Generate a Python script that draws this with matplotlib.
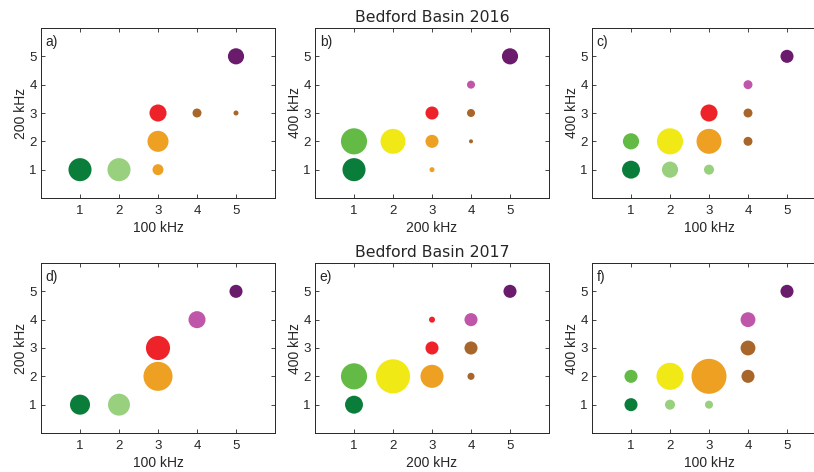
import matplotlib
matplotlib.use("Agg")
import matplotlib.pyplot as plt

# colours of clusters
C_DG = "#0b7d3b"   # dark green
C_LG = "#98d07e"   # light green
C_MG = "#63bb46"   # medium green
C_YE = "#f1e915"   # yellow
C_OR = "#eda022"   # orange
C_RE = "#ee2329"   # red
C_BR = "#a8662a"   # brown
C_PK = "#c056a9"   # pink
C_PU = "#6b1b6c"   # purple

# panel a) 100 kHz vs 200 kHz, 2016
a_x = [1, 2, 3, 3, 3, 4, 5, 5]
a_y = [1, 1, 1, 2, 3, 3, 3, 5]
a_w = [53, 53, 12, 44, 29, 8, 2.5, 26]
a_c = [C_DG, C_LG, C_OR, C_OR, C_RE, C_BR, C_BR, C_PU]

# panel b) 200 kHz vs 400 kHz, 2016
b_x = [1, 1, 2, 3, 3, 3, 4, 4, 4, 5]
b_y = [1, 2, 2, 1, 2, 3, 2, 3, 4, 5]
b_w = [53, 68, 62, 2.5, 17, 17, 1.6, 6.4, 6.4, 26]
b_c = [C_DG, C_MG, C_YE, C_OR, C_OR, C_RE, C_BR, C_BR, C_PK, C_PU]

# panel c) 100 kHz vs 400 kHz, 2016
c_x = [1, 1, 2, 2, 3, 3, 3, 4, 4, 4, 5]
c_y = [1, 2, 1, 2, 1, 2, 3, 2, 3, 4, 5]
c_w = [32, 26, 26, 68, 10, 62, 29, 8, 8, 8, 17]
c_c = [C_DG, C_MG, C_LG, C_YE, C_LG, C_OR, C_RE, C_BR, C_BR, C_PK, C_PU]

# panel d) 100 kHz vs 200 kHz, 2017
d_x = [1, 2, 3, 3, 4, 5]
d_y = [1, 1, 2, 3, 4, 5]
d_w = [40, 48, 84, 58, 29, 17]
d_c = [C_DG, C_LG, C_OR, C_RE, C_PK, C_PU]

# panel e) 200 kHz vs 400 kHz, 2017
e_x = [1, 1, 2, 3, 3, 3, 4, 4, 4, 5]
e_y = [1, 2, 2, 2, 3, 4, 2, 3, 4, 5]
e_w = [32, 68, 116, 53, 17, 3.6, 5, 17, 17, 17]
e_c = [C_DG, C_MG, C_YE, C_OR, C_RE, C_RE, C_BR, C_BR, C_PK, C_PU]

# panel f) 100 kHz vs 400 kHz, 2017
f_x = [1, 1, 2, 2, 3, 3, 4, 4, 4, 5]
f_y = [1, 2, 1, 2, 1, 2, 2, 3, 4, 5]
f_w = [17, 17, 10, 73, 6.4, 122, 17, 22, 22, 17]
f_c = [C_DG, C_MG, C_LG, C_YE, C_LG, C_OR, C_BR, C_BR, C_PK, C_PU]

ticks = [1, 2, 3, 4, 5]
tick_labels = ["1", "2", "3", "4", "5"]
titles = ["Bedford Basin 2016", "Bedford Basin 2017"]

panels = [
    ("a)", a_x, a_y, a_w, a_c, "100 kHz", "200 kHz"),
    ("b)", b_x, b_y, b_w, b_c, "200 kHz", "400 kHz"),
    ("c)", c_x, c_y, c_w, c_c, "100 kHz", "400 kHz"),
    ("d)", d_x, d_y, d_w, d_c, "100 kHz", "200 kHz"),
    ("e)", e_x, e_y, e_w, e_c, "200 kHz", "400 kHz"),
    ("f)", f_x, f_y, f_w, f_c, "100 kHz", "400 kHz"),
]

plt.rcParams['font.family'] = ['Liberation Sans', 'DejaVu Sans']

W, H = 814, 472
fig = plt.figure(figsize=(W / 100, H / 100), dpi=100)

lefts = [41, 315, 592]
tops = [28, 263]
aw, ah = 234, 170
size_scale = 5.2  # points^2 per weight unit

for i, (lab, xs, ys, ws, cs, xl, yl) in enumerate(panels):
    r, c = divmod(i, 3)
    l = lefts[c]
    t = tops[r]
    ax = fig.add_axes([l / W, (H - t - ah) / H, aw / W, ah / H])
    ax.scatter(xs, ys, s=[w * size_scale for w in ws], c=cs, linewidths=0, zorder=3)
    ax.set_xlim(0, 6)
    ax.set_ylim(0, 6)
    ax.set_xticks(ticks)
    ax.set_xticklabels(tick_labels)
    ax.set_yticks(ticks)
    ax.set_yticklabels(tick_labels)
    ax.tick_params(direction='in', top=True, right=True, length=3, width=0.6,
                   colors='#262626', labelsize=9.5)
    ax.tick_params(axis='x', pad=5)
    ax.tick_params(axis='y', pad=3)
    for sp in ax.spines.values():
        sp.set_color('#262626')
        sp.set_linewidth(0.7)
    ax.set_xlabel(xl, fontsize=10, color='#262626', labelpad=3)
    ax.set_ylabel(yl, fontsize=10, color='#262626', labelpad=1)
    ax.text(0.02, 0.96, lab, transform=ax.transAxes, ha='left', va='top',
            fontsize=10, color='#262626')
    if c == 1:
        ax.set_title(titles[r], fontsize=11.3, color='#262626', pad=4,
                     family=['DejaVu Sans'])

fig.savefig("out.png", dpi=100)
